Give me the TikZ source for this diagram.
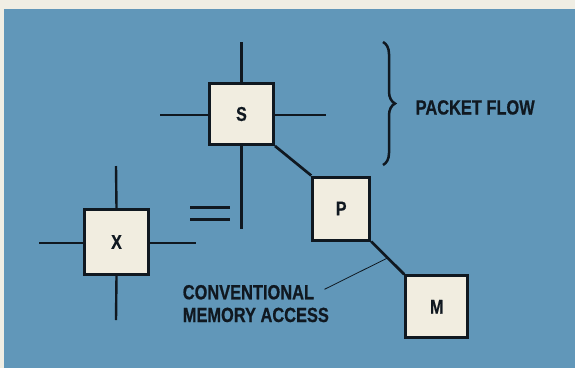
\documentclass[tikz,border=0pt]{standalone}
\usepackage{fontspec}
\usetikzlibrary{calc,decorations.pathreplacing}
\newfontfamily\labfont[FakeStretch=0.8, BoldFeatures={FakeBold=0.6}]{Liberation Sans}
\definecolor{bgblue}{RGB}{97,151,185}
\definecolor{margin}{RGB}{240,238,228}
\definecolor{boxfill}{RGB}{241,237,224}
\definecolor{ink}{RGB}{16,24,32}
\tikzset{
  unitbox/.style={draw=ink, line width=3pt, fill=boxfill, inner sep=0pt,
    font=\labfont\bfseries\fontsize{20}{22}\selectfont, text=ink},
  crossline/.style={draw=ink, line width=2.4pt},
  linkline/.style={draw=ink, line width=2.7pt},
  leader/.style={draw=ink, line width=0.8pt},
  labeltext/.style={font=\labfont\bfseries\fontsize{20.5}{22.7}\selectfont, text=ink, inner sep=0pt},
}
\begin{document}
\begin{tikzpicture}[x=1pt,y=-1pt]
\useasboundingbox (0,0) rectangle (575,368);
\fill[margin] (0,0) rectangle (575,368);
\fill[bgblue] (4,9) rectangle (575,368);

% boxes
\node[unitbox, minimum width=64pt, minimum height=61pt] (S) at (241.5,114) {S};
\node[unitbox, minimum width=57pt, minimum height=63pt] (P) at (341.2,208.5) {P};
\node[unitbox, minimum width=64pt, minimum height=65pt] (X) at (116.5,242) {X};
\node[unitbox, minimum width=62pt, minimum height=62pt] (M) at (436.7,306.8) {M};

% cross line ends
\coordinate (St) at (241.5,42.3);
\coordinate (Sb) at (241.5,229.3);
\coordinate (Sl) at (160,115);
\coordinate (Sr) at (326,115);
\coordinate (Xt) at (116,166);
\coordinate (Xb) at (116,320);
\coordinate (Xl) at (39,243);
\coordinate (Xr) at (196,243);

\draw[crossline] (S.north) -- (St);
\draw[crossline] (S.south) -- (Sb);
\draw[crossline] (S.west |- Sl) -- (Sl);
\draw[crossline] (S.east |- Sr) -- (Sr);
\draw[crossline] (X.north) -- (Xt);
\draw[crossline] (X.south) -- (Xb);
\draw[crossline] (X.west |- Xl) -- (Xl);
\draw[crossline] (X.east |- Xr) -- (Xr);

% links
\draw[linkline] (S.south east) -- (P.north west);
\draw[linkline] (P.south east) -- (M.north west);

% equals sign
\coordinate (e1a) at (190,207.3);
\coordinate (e1b) at (230,207.3);
\coordinate (e2a) at (190,219.3);
\coordinate (e2b) at (230,219.3);
\draw[crossline] (e1a) -- (e1b);
\draw[crossline] (e2a) -- (e2b);

% brace
\coordinate (bt) at (383,42);
\coordinate (bb) at (383,165);
\draw[ink, line width=2.5pt, decorate, decoration={brace, amplitude=12pt}] (bt) -- (bb);

% labels
\node[labeltext, anchor=base west] (pf) at (415.5,114.5) {PACKET FLOW};
\node[labeltext, anchor=base west] (conv1) at (182.6,299.3) {CONVENTIONAL};
\node[labeltext, anchor=base west] (conv2) at (182.6,322) {MEMORY ACCESS};

% leader
\coordinate (ls) at (324.5,289.3);
\coordinate (le) at ($(P.south east)!0.5!(M.north west)$);
\draw[leader] (ls) -- (le);
\end{tikzpicture}
\end{document}
